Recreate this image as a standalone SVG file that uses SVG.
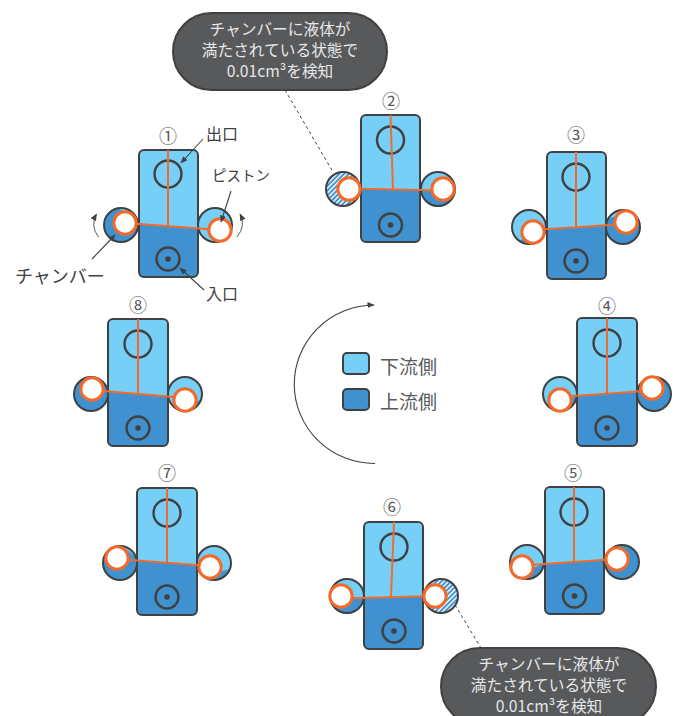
<svg xmlns="http://www.w3.org/2000/svg" width="681" height="716" viewBox="0 0 681 716">
<style>
text{font-family:"Noto Sans CJK JP","Noto Sans",sans-serif;fill:#58595b}
.n{font-size:18px;text-anchor:middle}
.l{font-size:16px;fill:#414042}
.b{font-size:15.700px;fill:#e6e7e8;text-anchor:middle}
.up{fill:#76cff6}
.dn{fill:#3f92cf}
.body{fill:none;stroke:#414042;stroke-width:2}
.ch{fill:none;stroke:#414042;stroke-width:2}
.po{fill:none;stroke:#414042;stroke-width:2.400}
.dot{fill:#414042}
.vane{fill:none;stroke:#f26b2c;stroke-width:2}
.pis{fill:#fff;stroke:#f26b2c;stroke-width:3}
.bub{fill:#58595b;stroke:#414042;stroke-width:2}
.dash{fill:none;stroke:#414042;stroke-width:1;stroke-dasharray:3 3}
.ar{fill:none;stroke:#414042;stroke-width:1.100;marker-end:url(#m)}
.rot{fill:none;stroke:#58595b;stroke-width:1;marker-end:url(#m)}
</style>
<defs>
<marker id="m" markerWidth="8" markerHeight="8" refX="6.500" refY="3" orient="auto" markerUnits="userSpaceOnUse"><path d="M0 0L7 3L0 6Z" fill="#414042"/></marker>
<pattern id="h" width="3.400" height="3.400" patternUnits="userSpaceOnUse" patternTransform="rotate(-45)"><rect width="3.400" height="3.400" fill="#3f92cf"/><rect width="3.400" height="1.400" fill="#fff"/></pattern>
</defs>

<g id="callout-top">
<rect class="bub" x="173" y="13" width="214" height="77" rx="38.500"/>
<text class="b" x="280" y="35">チャンバーに液体が</text>
<text class="b" x="280" y="56">満たされている状態で</text>
<text class="b" x="280" y="77">0.01cm³を検知</text>
</g>
<g id="callout-bottom">
<rect class="bub" x="441" y="648" width="215" height="77" rx="38.500"/>
<text class="b" x="549" y="670">チャンバーに液体が</text>
<text class="b" x="549" y="691">満たされている状態で</text>
<text class="b" x="549" y="712">0.01cm³を検知</text>
</g>

<g id="node1">
<text class="n" x="168" y="143">①</text>
<circle class="dn" cx="121" cy="225" r="17"/><path class="up" d="M118 208.300A17 17 0 0 1 137 219Z"/><circle class="ch" cx="121" cy="225" r="17"/>
<circle class="up" cx="215" cy="225" r="17"/><path class="dn" d="M232 224A17 17 0 0 1 222 240.500Z"/><circle class="ch" cx="215" cy="225" r="17"/>
<rect class="up" x="139" y="150" width="59" height="127" rx="5"/>
<path class="dn" d="M139 223.500L198 228V272a5 5 0 0 1 -5 5H144a5 5 0 0 1 -5 -5Z"/>
<rect class="body" x="139" y="150" width="59" height="127" rx="5"/>
<circle class="po" cx="168" cy="174" r="13.500"/><circle class="po" cx="168" cy="259" r="11.500"/><circle class="dot" cx="168" cy="259" r="2.800"/>
<path class="vane" d="M125 223L220 230M168 150V227"/>
<circle class="pis" cx="125" cy="223" r="11.200"/><circle class="pis" cx="220" cy="230" r="11.200"/>
<text class="l" x="206" y="140">出口</text>
<text class="l" x="212" y="181" style="font-size:14.500px">ピストン</text>
<text class="l" x="206" y="300">入口</text>
<text class="l" x="15" y="283" style="font-size:18px">チャンバー</text>
</g>

<g id="node2">
<text class="n" x="391" y="108">②</text>
<circle cx="343" cy="189" r="17" fill="url(#h)"/><circle class="ch" cx="343" cy="189" r="17"/>
<circle class="up" cx="438" cy="189" r="17"/><path class="dn" d="M421 190A17 17 0 0 0 455 190Z"/><circle class="ch" cx="438" cy="189" r="17"/>
<rect class="up" x="361" y="115" width="59" height="127" rx="5"/>
<path class="dn" d="M361 188.500L420 190V237a5 5 0 0 1 -5 5H366a5 5 0 0 1 -5 -5Z"/>
<rect class="body" x="361" y="115" width="59" height="127" rx="5"/>
<circle class="po" cx="390.500" cy="140" r="13.500"/><circle class="po" cx="390.500" cy="225" r="11.500"/><circle class="dot" cx="390.500" cy="225" r="2.800"/>
<path class="vane" d="M349 188.500L443 190.500M390.500 115L393 190"/>
<circle class="pis" cx="349" cy="189" r="11.200"/><circle class="pis" cx="443" cy="189" r="11.200"/>
</g>

<g id="node3">
<text class="n" x="576" y="142">③</text>
<circle class="up" cx="529" cy="227" r="17"/><path class="dn" d="M519 241A17 17 0 0 0 546 228Z"/><circle class="ch" cx="529" cy="227" r="17"/>
<circle class="dn" cx="623" cy="227" r="17"/><path class="up" d="M608 219A17 17 0 0 1 628 211Z"/><circle class="ch" cx="623" cy="227" r="17"/>
<rect class="up" x="547" y="152" width="59" height="127" rx="5"/>
<path class="dn" d="M547 229.500L606 225V274a5 5 0 0 1 -5 5H552a5 5 0 0 1 -5 -5Z"/>
<rect class="body" x="547" y="152" width="59" height="127" rx="5"/>
<circle class="po" cx="576" cy="177" r="13.500"/><circle class="po" cx="576" cy="261" r="11.500"/><circle class="dot" cx="576" cy="261" r="2.800"/>
<path class="vane" d="M533 230L626 224M576 152V227"/>
<circle class="pis" cx="533" cy="232" r="11.200"/><circle class="pis" cx="626" cy="222" r="11.200"/>
</g>

<g id="node4">
<text class="n" x="607" y="313">④</text>
<circle class="up" cx="560" cy="394" r="17"/><path class="dn" d="M549 407A17 17 0 0 0 577 396Z"/><circle class="ch" cx="560" cy="394" r="17"/>
<circle class="dn" cx="654" cy="394" r="17"/><path class="up" d="M638 388A17 17 0 0 1 648 378Z"/><circle class="ch" cx="654" cy="394" r="17"/>
<rect class="up" x="577" y="318" width="60" height="128" rx="5"/>
<path class="dn" d="M577 396.500L637 391.500V441a5 5 0 0 1 -5 5H582a5 5 0 0 1 -5 -5Z"/>
<rect class="body" x="577" y="318" width="60" height="128" rx="5"/>
<circle class="po" cx="607" cy="343" r="13.500"/><circle class="po" cx="607" cy="428" r="11.500"/><circle class="dot" cx="607" cy="428" r="2.800"/>
<path class="vane" d="M560 397L652 390.500M607 318V393"/>
<circle class="pis" cx="560" cy="400" r="11.200"/><circle class="pis" cx="652" cy="388" r="11.200"/>
</g>

<g id="node5">
<text class="n" x="573" y="480">⑤</text>
<circle class="up" cx="527" cy="562" r="17"/><path class="dn" d="M517 576A17 17 0 0 0 544 563Z"/><circle class="ch" cx="527" cy="562" r="17"/>
<circle class="dn" cx="622" cy="562" r="17"/><path class="up" d="M606 556A17 17 0 0 1 615 546.500Z"/><circle class="ch" cx="622" cy="562" r="17"/>
<rect class="up" x="545" y="487" width="59" height="127" rx="5"/>
<path class="dn" d="M545 564.500L604 559.500V609a5 5 0 0 1 -5 5H550a5 5 0 0 1 -5 -5Z"/>
<rect class="body" x="545" y="487" width="59" height="127" rx="5"/>
<circle class="po" cx="574" cy="512" r="13.500"/><circle class="po" cx="574.500" cy="596" r="11.500"/><circle class="dot" cx="574.500" cy="596" r="2.800"/>
<path class="vane" d="M522 565.500L617 559M574 487V561"/>
<circle class="pis" cx="522" cy="567" r="11.200"/><circle class="pis" cx="617" cy="559" r="11.200"/>
</g>

<g id="node6">
<text class="n" x="392" y="514">⑥</text>
<circle class="up" cx="347" cy="596" r="17"/><path class="dn" d="M330 597A17 17 0 0 0 364 597Z"/><circle class="ch" cx="347" cy="596" r="17"/>
<circle cx="441" cy="596" r="17" fill="url(#h)"/><circle class="ch" cx="441" cy="596" r="17"/>
<rect class="up" x="364" y="522" width="59" height="127" rx="5"/>
<path class="dn" d="M364 598L423 596V644a5 5 0 0 1 -5 5H369a5 5 0 0 1 -5 -5Z"/>
<rect class="body" x="364" y="522" width="59" height="127" rx="5"/>
<circle class="po" cx="394" cy="547" r="13.500"/><circle class="po" cx="394" cy="631" r="11.500"/><circle class="dot" cx="394" cy="631" r="2.800"/>
<path class="vane" d="M341 598.500L435 596M394 522L391 597"/>
<circle class="pis" cx="341" cy="596" r="11.200"/><circle class="pis" cx="435" cy="596" r="11.200"/>
</g>

<g id="node7">
<text class="n" x="167" y="480">⑦</text>
<circle class="dn" cx="120" cy="563" r="17"/><path class="up" d="M122 546A17 17 0 0 1 136 557Z"/><circle class="ch" cx="120" cy="563" r="17"/>
<circle class="up" cx="214" cy="563" r="17"/><path class="dn" d="M203 576A17 17 0 0 0 230 569Z"/><circle class="ch" cx="214" cy="563" r="17"/>
<rect class="up" x="137" y="488" width="60" height="127" rx="5"/>
<path class="dn" d="M137 560.500L197 565V610a5 5 0 0 1 -5 5H142a5 5 0 0 1 -5 -5Z"/>
<rect class="body" x="137" y="488" width="60" height="127" rx="5"/>
<circle class="po" cx="167" cy="513" r="13.500"/><circle class="po" cx="167" cy="597" r="11.500"/><circle class="dot" cx="167" cy="597" r="2.800"/>
<path class="vane" d="M117 559L210 566M167 488V562"/>
<circle class="pis" cx="117" cy="558" r="11.200"/><circle class="pis" cx="210" cy="567" r="11.200"/>
</g>

<g id="node8">
<text class="n" x="138" y="312">⑧</text>
<circle class="dn" cx="91" cy="394" r="17"/><path class="up" d="M90 377A17 17 0 0 1 105 384.500Z"/><circle class="ch" cx="91" cy="394" r="17"/>
<circle class="up" cx="185" cy="394" r="17"/><path class="dn" d="M175 408A17 17 0 0 0 201 400Z"/><circle class="ch" cx="185" cy="394" r="17"/>
<rect class="up" x="108" y="319" width="60" height="127" rx="5"/>
<path class="dn" d="M108 391.500L168 395.500V441a5 5 0 0 1 -5 5H113a5 5 0 0 1 -5 -5Z"/>
<rect class="body" x="108" y="319" width="60" height="127" rx="5"/>
<circle class="po" cx="138" cy="344" r="13.500"/><circle class="po" cx="138" cy="428" r="11.500"/><circle class="dot" cx="138" cy="428" r="2.800"/>
<path class="vane" d="M92 390L185 398M138 319V394"/>
<circle class="pis" cx="92" cy="389" r="11.200"/><circle class="pis" cx="185" cy="400" r="11.200"/>
</g>

<g id="legend">
<rect class="up" x="343" y="353" width="26" height="21" rx="4" stroke="#414042" stroke-width="2"/>
<rect class="dn" x="343" y="389" width="26" height="21" rx="4" stroke="#414042" stroke-width="2"/>
<text x="380" y="374" style="font-size:19px">下流側</text>
<text x="380" y="409" style="font-size:19px">上流側</text>
</g>

<g id="connectors">
<path class="dash" d="M285 90L333 172"/>
<path class="dash" d="M455 605L481 648"/>
<path class="ar" d="M203 139L181 163"/>
<path class="ar" d="M231 191L221 222"/>
<path class="ar" d="M92 259L115 235"/>
<path class="ar" d="M204 290L180 268"/>
<path class="rot" d="M98.500 237Q90 226 96.500 214"/>
<path class="rot" d="M237 237Q246 226 240 214"/>
<path fill="none" stroke="#414042" stroke-width="1.100" marker-end="url(#m)" d="M375 463.500A80 79 0 0 1 374 305"/>
</g>
</svg>
